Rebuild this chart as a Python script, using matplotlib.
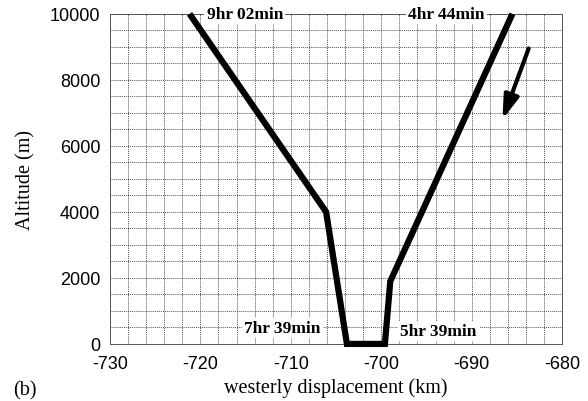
import matplotlib
matplotlib.use("Agg")
import matplotlib.pyplot as plt
import numpy as np

# Trajectory profile: westerly displacement (km) vs altitude (m)
disp_km = [-721.2, -706.1, -703.8, -699.6, -699.0, -685.5]
alt_m = [10000, 4000, 0, 0, 1900, 10000]

# Time labels at the trajectory ends / turning points
time_labels = ["9hr 02min", "4hr 44min", "7hr 39min", "5hr 39min"]
label_x = [-715.1, -692.8, -710.9, -693.7]
label_y = [10000, 10000, 480, 380]

# Direction arrow (tail -> head)
arrow_tail = (-683.7, 8950)
arrow_head = (-686.6, 6800)

xticks = [-730, -720, -710, -700, -690, -680]
yticks = [0, 2000, 4000, 6000, 8000, 10000]

fig = plt.figure(figsize=(5.88, 4.02), dpi=100)
ax = fig.add_axes([0.187, 0.142, 0.769, 0.821])

ax.set_xlim(-730, -680)
ax.set_ylim(0, 10000)
ax.set_xticks(xticks)
ax.set_xticklabels([str(v) for v in xticks])
ax.set_yticks(yticks)
ax.set_xticks(np.arange(-730, -679, 2), minor=True)
ax.set_yticks(np.arange(0, 10001, 500), minor=True)
ax.grid(which="both", color="#555555", linestyle=(0, (1, 1)), linewidth=0.7)
ax.tick_params(which="both", length=0)
ax.tick_params(axis="x", pad=8)
ax.tick_params(axis="y", pad=7)
for s in ax.spines.values():
    s.set_color("#555555")
    s.set_linestyle((0, (1, 1)))
    s.set_linewidth(0.7)

for lab in ax.get_xticklabels() + ax.get_yticklabels():
    lab.set_fontfamily("Liberation Sans")
    lab.set_fontsize(13)

ax.plot(disp_km, alt_m, color="black", linewidth=4.5, solid_joinstyle="miter",
        solid_capstyle="butt", zorder=3, clip_on=False)

for t, x, y in zip(time_labels, label_x, label_y):
    ax.text(x, y, t, ha="center", va="center", fontfamily="Liberation Serif",
            fontweight="bold", fontsize=12.5, zorder=4,
            bbox=dict(facecolor="white", edgecolor="none", pad=1.5))

ax.annotate("", xy=arrow_head, xytext=arrow_tail,
            arrowprops=dict(arrowstyle="-|>,head_length=0.95,head_width=0.3",
                            mutation_scale=15, color="black", lw=3,
                            shrinkA=0, shrinkB=0),
            zorder=4)

ax.set_xlabel("westerly displacement (km)", fontfamily="Liberation Serif",
              fontsize=14.5, labelpad=3.5)
ax.set_ylabel("Altitude (m)", fontfamily="Liberation Serif", fontsize=14.5,
              labelpad=10)
fig.text(0.022, 0.017, "(b)", fontfamily="Liberation Serif", fontsize=14.5)

fig.savefig("out.png", dpi=100)
